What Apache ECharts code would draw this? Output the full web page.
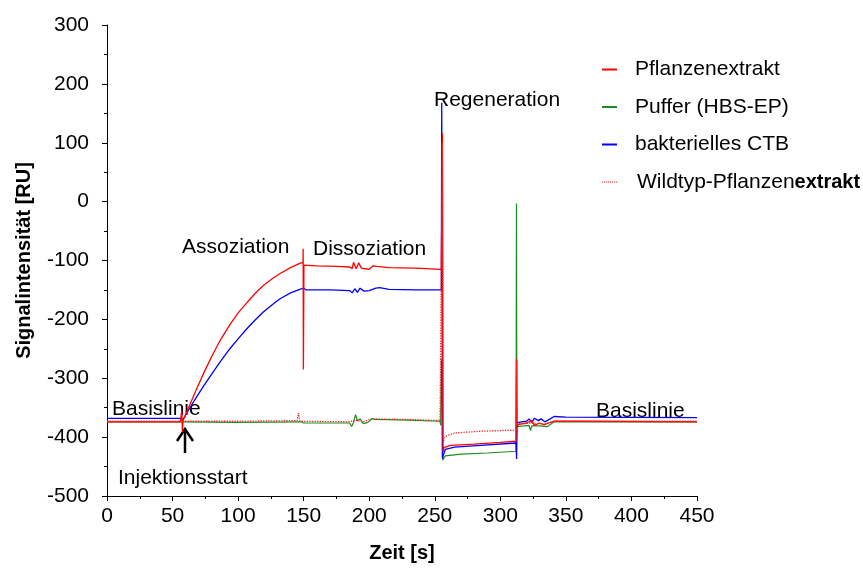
<!DOCTYPE html>
<html>
<head>
<meta charset="utf-8">
<script src="https://cdn.jsdelivr.net/npm/echarts@6/dist/echarts.min.js"></script>
<style>
  html, body { margin: 0; padding: 0; background: #fff; }
  #chart { width: 863px; height: 568px; }
</style>
</head>
<body>
<div id="chart"></div>
<script>
const pflanzenextrakt = [
  [0, -374], [56, -374], [57, -355], [57.5, -391], [58, -372], [63, -346], [68, -320], [74, -290],
  [81, -258], [87, -233], [94, -208], [100, -189], [107, -171], [113, -156], [119, -143], [126, -131],
  [132, -122], [140, -112], [147, -105], [149.5, -103], [149.6, -80], [149.8, -285], [150.2, -108],
  [160, -109], [175, -110], [185, -111], [187, -114], [188, -103], [190, -114], [192, -104], [194, -113],
  [197, -114], [200, -115], [203, -109], [206, -110], [215, -112], [235, -113], [255, -115],
  [255.5, -115], [255.8, 116], [256.3, -425], [257, -418], [262, -414], [280, -412], [300, -409],
  [312, -407], [312.3, -268], [312.7, -380], [315, -378], [320, -376], [324, -372], [326, -380],
  [330, -376], [333, -379], [337, -376], [341, -373], [360, -373], [450, -374]
];
const puffer = [
  [0, -374], [57, -374], [58, -376], [100, -375], [148, -374], [150, -376], [185, -376], [186.6, -382],
  [188, -375], [189.6, -362], [191, -372], [193, -369], [195.5, -377], [199, -375], [202, -369],
  [205, -370], [230, -371], [254, -373], [254.5, -380], [255, -268], [255.5, -300], [256, -439],
  [258, -432], [270, -429], [290, -427], [312, -424], [312.3, -3], [312.6, -382], [318, -381],
  [322, -380], [323, -389], [324, -381], [330, -381], [336, -382], [341, -374], [360, -374], [450, -374]
];
const bakteriellesCTB = [
  [0, -368], [56, -368], [58, -370], [63, -351], [68, -333], [74, -312], [81, -289], [87, -270],
  [94, -249], [100, -233], [107, -215], [113, -201], [119, -188], [126, -175], [132, -165], [140, -155],
  [147, -149], [150, -147], [152, -150], [170, -150], [185, -151], [187, -155], [189, -148], [191, -154],
  [193, -147], [196, -152], [200, -151], [205, -147], [208, -146], [215, -149], [235, -150], [255, -150],
  [255.3, 168], [255.8, -436], [258, -421], [265, -417], [285, -414], [312, -410], [312.4, -437],
  [312.8, -376], [316, -374], [320, -373], [322, -369], [324, -375], [326, -368], [329, -372],
  [331, -369], [334, -374], [338, -369], [341, -365], [350, -366], [450, -367]
];
const wildtyp = [
  [0, -373], [58, -373], [100, -373], [145, -372], [146, -359], [147, -373], [185, -374], [190, -371],
  [195, -374], [202, -369], [230, -370], [254, -372], [255.2, -374], [255.8, 100], [256.4, -408],
  [258, -399], [265, -393], [285, -390], [312, -388], [312.5, -268], [312.8, -378], [318, -377],
  [325, -376], [333, -378], [341, -373], [450, -373]
];
const seriesNames = ['Pflanzenextrakt', 'Puffer (HBS-EP)', 'bakterielles CTB', 'Wildtyp-Pflanzenextrakt'];
const seriesColors = ['#ff0000', '#1e8c1e', '#0000ff', '#ff2020'];

const FONT = 'Liberation Sans, Arial, sans-serif';
// kurze Linie bzw. gepunktete Linie als Legendensymbol
const ICON_LINE = 'path://M0,0h15v2h-15z';
const ICON_DOTS = 'path://M0,0h1v1h-1zM2,0h1v1h-1zM4,0h1v1h-1zM6,0h1v1h-1zM8,0h1v1h-1zM10,0h1v1h-1zM12,0h1v1h-1zM14,0h1v1h-1z';

function note (text, x, y) {
  return {
    type: 'text', left: x, top: y - 9,
    style: { text: text, font: '21px ' + FONT, fill: '#000' }
  };
}

function legendItem (i) {
  return {
    name: seriesNames[i],
    icon: i === 3 ? ICON_DOTS : ICON_LINE,
    itemStyle: { color: seriesColors[i], borderWidth: 0 },
    lineStyle: { color: seriesColors[i], width: 0, opacity: 0 }
  };
}

let chart = echarts.init(document.getElementById('chart'));
let option = {
  backgroundColor: '#fff',
  animation: false,
  grid: { left: 107, right: 166, top: 25, bottom: 72, containLabel: false, outerBoundsMode: 'none' },
  legend: {
    orient: 'vertical',
    left: 597, top: 54,
    itemWidth: 15, itemHeight: 2, itemGap: 16.5,
    data: [legendItem(0), legendItem(1), legendItem(2), legendItem(3)],
    textStyle: {
      fontFamily: FONT, fontSize: 21, color: '#000', lineHeight: 21, padding: [0, 0, 0, 13],
      rich: {
        a: { fontFamily: FONT, fontSize: 21, color: '#000', padding: [0, 0, 0, 2] },
        b: { fontFamily: FONT, fontSize: 20, color: '#000', fontWeight: 'bold' }
      }
    },
    formatter: function (name) {
      if (name === 'Wildtyp-Pflanzenextrakt') return '{a|Wildtyp-Pflanzen}{b|extrakt}';
      return name;
    }
  },
  xAxis: {
    type: 'value', min: 0, max: 450, interval: 50,
    name: 'Zeit [s]', nameLocation: 'middle', nameGap: 47,
    nameTextStyle: { fontFamily: FONT, fontSize: 20, fontWeight: 'bold', color: '#000' },
    axisLine: { show: true, onZero: false, lineStyle: { color: '#000', width: 1 } },
    axisTick: { show: true, length: 5, lineStyle: { color: '#000' } },
    minorTick: { show: true, splitNumber: 2, length: 3, lineStyle: { color: '#000' } },
    axisLabel: { fontFamily: FONT, fontSize: 21, color: '#000', margin: 10 },
    splitLine: { show: false }
  },
  yAxis: {
    type: 'value', min: -500, max: 300, interval: 100,
    name: 'Signalintensität [RU]', nameLocation: 'middle', nameGap: 73,
    nameTextStyle: { fontFamily: FONT, fontSize: 20, fontWeight: 'bold', color: '#000' },
    axisLine: { show: true, onZero: false, lineStyle: { color: '#000', width: 1 } },
    axisTick: { show: true, length: 5, lineStyle: { color: '#000' } },
    minorTick: { show: true, splitNumber: 2, length: 3, lineStyle: { color: '#000' } },
    axisLabel: { fontFamily: FONT, fontSize: 21, color: '#000', margin: 18 },
    splitLine: { show: false }
  },
  series: [
    {
      name: seriesNames[0], type: 'line', symbol: 'none', data: pflanzenextrakt,
      color: seriesColors[0], lineStyle: { color: seriesColors[0], width: 1.3 }, z: 4
    },
    {
      name: seriesNames[1], type: 'line', symbol: 'none', data: puffer,
      color: seriesColors[1], lineStyle: { color: seriesColors[1], width: 1.2 }, z: 2
    },
    {
      name: seriesNames[2], type: 'line', symbol: 'none', data: bakteriellesCTB,
      color: seriesColors[2], lineStyle: { color: seriesColors[2], width: 1.3 }, z: 3
    },
    {
      name: seriesNames[3], type: 'line', symbol: 'none', data: wildtyp,
      color: seriesColors[3], lineStyle: { color: seriesColors[3], width: 1.3, type: 'dotted' }, z: 5
    }
  ],
  graphic: [
    note('Basislinie', 112, 408),
    note('Injektionsstart', 118, 477),
    note('Assoziation', 182, 246),
    note('Dissoziation', 313, 248),
    note('Regeneration', 434, 99),
    note('Basislinie', 596, 410),
    // Pfeil bei Injektionsstart
    {
      type: 'polyline',
      shape: { points: [[185, 453], [185, 429]] },
      style: { stroke: '#000', lineWidth: 2.5, fill: null }
    },
    {
      type: 'polyline',
      shape: { points: [[177, 441], [185, 429], [193, 441]] },
      style: { stroke: '#000', lineWidth: 2.5, fill: null }
    }
  ]
};
chart.setOption(option);
</script>
</body>
</html>
